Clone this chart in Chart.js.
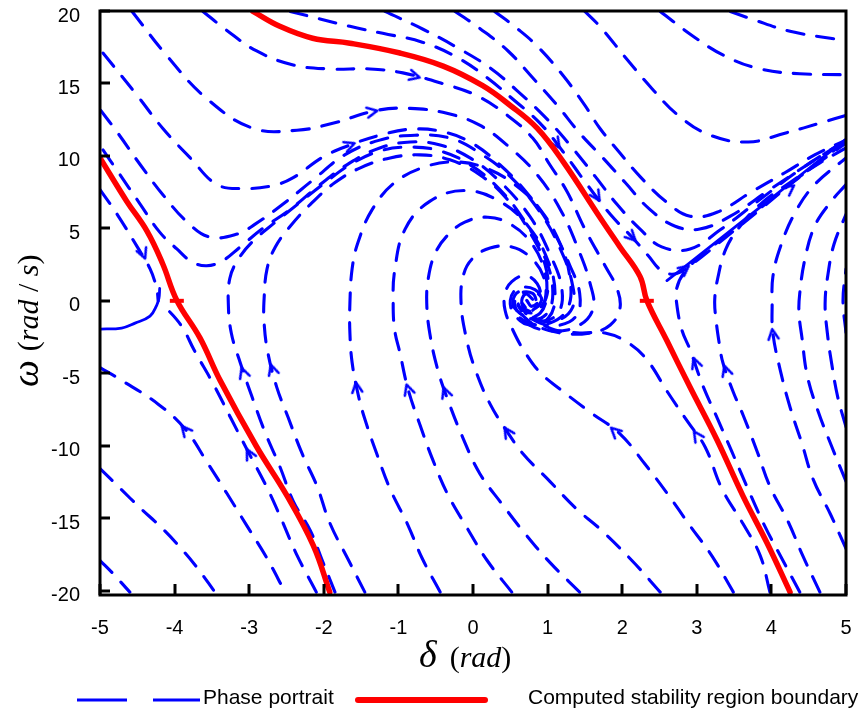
<!DOCTYPE html>
<html>
<head>
<meta charset="utf-8">
<script src="https://cdn.jsdelivr.net/npm/chart.js@4.4.1/dist/chart.umd.min.js"></script>
<style>
  html, body { margin: 0; padding: 0; background: #fff; }
  #wrap { width: 865px; height: 712px; }
</style>
</head>
<body>
<div id="wrap"><canvas id="phaseChart" width="865" height="712"></canvas></div>
<script>
// ================= Axis ticks =================
const xTicks = [-5, -4, -3, -2, -1, 0, 1, 2, 3, 4, 5];
const yTicks = [-20, -15, -10, -5, 0, 5, 10, 15, 20];

// ================= Stability boundary (red) =================
const boundaryLeft = [[-5.00,9.86],[-4.64,6.86],[-4.37,4.81],[-4.16,2.56],[-3.97,0.03],[-3.66,-2.56],[-3.39,-5.49],[-2.90,-10.07],[-2.49,-13.48],[-2.14,-16.89],[-1.92,-20.1]];
const boundaryRight = [[-2.95,19.97],[-2.59,18.94],[-2.15,18.12],[-1.65,17.78],[-0.98,17.1],[-0.40,16.2],[0.13,14.85],[0.50,13.48],[0.86,11.91],[1.21,9.59],[1.70,5.77],[1.97,3.72],[2.24,1.67],[2.33,0.03],[2.60,-2.76],[2.91,-5.97],[3.27,-9.59],[3.62,-13.48],[3.94,-16.7],[4.25,-20.1]];
const saddlePoints = [[-3.97,0],[2.33,0]];

// ================= Phase portrait trajectories (blue) =================
// upper left, entering the stable region from the top / left edge
const trajU0 = [[-3.62,19.97],[-3.32,18.74],[-2.90,17.24],[-2.41,16.28],[-1.92,16.0],[-1.38,16.0],[-0.94,15.73],[-0.40,14.98],[0.05,14.16],[0.46,12.8],[0.80,11.23],[1.03,9.39],[1.26,7.54],[1.50,4.95],[1.77,2.42],[1.93,0.85],[1.97,-0.51],[1.84,-1.67],[1.57,-2.22],[1.17,-2.22],[0.83,-1.67],[0.63,-0.85]];
const trajU1 = [[-4.57,19.97],[-4.10,16.89],[-3.57,13.96],[-2.95,11.91],[-2.36,11.77],[-1.88,12.25],[-1.29,13.14],[-0.84,13.28],[-0.35,12.94],[0.09,12.12],[0.50,10.55],[0.86,8.7],[1.17,6.31],[1.41,3.58],[1.57,1.19],[1.61,-0.51],[1.43,-1.67],[1.10,-2.08],[0.76,-1.67],[0.56,-0.51]];
const trajU2 = [[-4.96,17.1],[-4.50,14.16],[-4.16,11.91],[-3.79,9.86],[-3.43,8.02],[-3.06,7.75],[-2.68,7.95],[-2.41,8.5],[-2.01,9.93],[-1.65,10.75],[-1.25,11.43],[-0.84,11.84],[-0.44,11.71],[-0.04,10.96],[0.36,9.39],[0.74,7.34],[1.06,4.95],[1.30,2.42],[1.43,0.51],[1.39,-0.99],[1.17,-1.67],[0.90,-1.54],[0.70,-0.72],[0.66,0.17],[0.79,0.65],[0.92,0.17],[0.83,-0.51],[0.74,-0.03]];
const trajU3 = [[-4.99,13.14],[-4.76,11.57],[-4.46,9.39],[-4.16,7.34],[-3.83,5.43],[-3.53,4.4],[-3.16,4.61],[-2.92,5.29],[-2.55,6.66],[-2.14,8.36],[-1.72,10.07],[-1.25,11.09],[-0.78,11.43],[-0.31,11.23],[0.09,10.2],[0.50,8.57],[0.90,6.11],[1.17,3.58],[1.33,1.19],[1.33,-0.51],[1.10,-1.4],[0.83,-1.19],[0.66,-0.17]];
const trajU5 = [[-4.96,10.41],[-4.76,8.91],[-4.46,6.66],[-4.20,4.74],[-3.97,3.58],[-3.77,2.7],[-3.57,2.42],[-3.36,2.76],[-3.12,3.72],[-2.83,4.95],[-2.45,6.31],[-2.05,8.02],[-1.65,9.52],[-1.25,10.55],[-0.84,10.96],[-0.44,10.75],[-0.04,9.86],[0.36,8.23],[0.76,5.84],[1.03,3.24],[1.19,0.85],[1.14,-0.85],[0.90,-1.4],[0.70,-0.85]];
// left of the left boundary
const trajU4 = [[-5.0,7.68],[-4.77,5.97],[-4.50,3.72],[-4.33,2.22],[-4.24,0.85],[-4.22,0.0]];
const trajLR = [[-2.10,-20.1],[-2.37,-17.44],[-2.57,-15.05],[-2.77,-12.8],[-3.00,-10.55],[-3.24,-8.16],[-3.47,-5.84],[-3.74,-3.38],[-3.89,-1.88],[-4.06,-0.79],[-4.17,-0.38]];
const trajLL1 = [[-5.0,-4.61],[-4.73,-5.43],[-4.22,-7.13],[-3.86,-8.84],[-3.57,-11.09],[-3.30,-13.28],[-3.03,-15.53],[-2.76,-17.78],[-2.52,-20.1]];
const trajLL2 = [[-5.0,-11.57],[-4.73,-12.94],[-4.46,-14.3],[-4.20,-15.53],[-3.97,-16.76],[-3.70,-18.4],[-3.46,-20.1]];
const trajLL3 = [[-5.0,-17.92],[-4.83,-18.8],[-4.60,-20.1]];
// lower region, rising into the spiral
const trajSb = [[-1.85,-20.1],[-2.02,-17.92],[-2.18,-15.87],[-2.41,-13.82],[-2.59,-11.43],[-2.79,-9.04],[-2.96,-6.66],[-3.12,-4.27],[-3.24,-2.22],[-3.28,-0.17],[-3.26,1.54],[-3.16,2.76],[-2.96,4.06],[-2.65,5.43],[-2.32,6.79],[-1.98,8.16],[-1.65,9.39],[-1.25,10.34],[-0.84,10.61],[-0.44,10.34],[-0.04,9.39],[0.36,7.68],[0.70,5.43],[0.97,2.9],[1.07,0.51],[0.97,-0.99],[0.74,-1.19],[0.60,-0.31]];
const trajSa = [[-1.45,-20.1],[-1.68,-17.78],[-1.92,-15.32],[-2.09,-12.8],[-2.29,-10.55],[-2.48,-8.02],[-2.63,-5.97],[-2.75,-3.58],[-2.80,-1.54],[-2.80,0.17],[-2.76,2.22],[-2.65,3.72],[-2.45,5.15],[-2.18,6.66],[-1.85,8.16],[-1.51,9.18],[-1.11,9.86],[-0.71,10.07],[-0.31,9.73],[0.09,8.7],[0.46,7.0],[0.76,4.74],[0.97,2.42],[0.99,0.37],[0.83,-0.72],[0.66,-0.51]];
const trajS1 = [[-0.44,-20.1],[-0.68,-17.78],[-0.88,-15.39],[-1.11,-13.0],[-1.29,-10.55],[-1.45,-8.16],[-1.54,-6.45],[-1.62,-4.27],[-1.65,-2.22],[-1.65,-0.17],[-1.62,2.22],[-1.54,4.06],[-1.35,6.31],[-1.05,8.16],[-0.64,9.25],[-0.24,9.59],[0.16,9.18],[0.56,8.02],[0.90,6.31],[1.17,3.92],[1.30,1.54],[1.27,-0.51],[1.03,-1.54],[0.76,-1.54],[0.56,-0.72],[0.56,0.37],[0.74,0.92]];
const trajL1 = [[0.52,-20.1],[0.19,-17.92],[-0.08,-15.67],[-0.34,-13.34],[-0.54,-10.96],[-0.71,-8.57],[-0.87,-6.11],[-0.98,-3.58],[-1.05,-2.01],[-1.07,-0.17],[-1.05,2.08],[-0.91,4.95],[-0.58,6.86],[-0.11,7.61],[0.36,6.86],[0.74,5.15],[1.01,2.7],[1.10,0.37],[1.01,-1.19],[0.76,-1.67],[0.56,-0.99],[0.50,0.03],[0.60,0.85],[0.83,0.78],[0.92,-0.03],[0.80,-0.65]];
const trajL2 = [[1.43,-20.1],[1.03,-18.05],[0.70,-16.08],[0.39,-14.03],[0.09,-11.91],[-0.13,-9.52],[-0.35,-6.66],[-0.48,-4.61],[-0.58,-2.22],[-0.62,-0.17],[-0.60,1.54],[-0.51,3.24],[-0.35,4.47],[-0.11,5.43],[0.20,5.77],[0.50,5.29],[0.76,4.13],[0.94,2.42],[0.99,0.51],[0.90,-0.85],[0.70,-1.06],[0.56,-0.31],[0.63,0.51],[0.80,0.51],[0.86,-0.17]];
const trajL3 = [[2.51,-20.1],[2.13,-17.92],[1.70,-15.73],[1.39,-14.37],[1.03,-12.46],[0.67,-10.55],[0.46,-9.04],[0.23,-7.13],[0.03,-4.74],[-0.09,-2.56],[-0.16,-0.17],[-0.13,1.74],[-0.01,2.9],[0.23,3.65],[0.52,3.72],[0.76,3.04],[0.94,1.74],[0.97,0.17],[0.86,-0.72],[0.68,-0.72],[0.60,0.03],[0.70,0.51],[0.80,0.1]];
const trajL4 = [[3.49,-20.1],[3.20,-17.58],[2.91,-15.53],[2.61,-13.34],[2.31,-11.3],[1.97,-9.18],[1.57,-7.68],[1.17,-6.11],[0.90,-4.95],[0.70,-3.58],[0.54,-2.08],[0.43,-0.65],[0.43,0.51],[0.52,1.33],[0.70,1.74],[0.86,1.19],[0.90,0.17],[0.79,-0.38],[0.72,0.03]];
const trajL5 = [[3.98,-20.1],[3.85,-17.58],[3.62,-15.39],[3.34,-13.0],[3.11,-10.07],[2.88,-8.36],[2.61,-6.31],[2.33,-4.06],[2.08,-2.9],[1.77,-2.22],[1.43,-2.22],[1.10,-2.01],[0.83,-1.4]];
// right of the right boundary
const trajL6 = [[4.38,-20.1],[4.14,-17.78],[3.91,-15.53],[3.67,-12.8],[3.47,-10.41],[3.28,-8.16],[3.08,-5.84],[2.91,-3.38],[2.80,-2.01],[2.73,-0.17],[2.73,0.85],[2.82,1.88],[3.04,3.04],[3.45,4.74],[3.98,6.93],[4.52,9.11],[5.0,11.02]];
const trajL7 = [[4.65,-20.1],[4.42,-17.58],[4.22,-15.19],[3.98,-12.8],[3.81,-10.41],[3.62,-7.88],[3.49,-6.31],[3.35,-4.27],[3.30,-2.9],[3.26,-1.4],[3.24,0.03],[3.28,1.54],[3.39,3.58],[3.58,5.15],[3.85,6.66],[4.25,8.16],[4.65,9.52],[5.0,10.55]];
const trajL8 = [[5.0,-17.1],[4.79,-14.71],[4.56,-12.32],[4.41,-9.86],[4.25,-7.34],[4.12,-4.81],[4.02,-2.22],[4.01,-0.17],[4.02,1.67],[4.12,3.72],[4.32,6.11],[4.58,8.02],[5.0,9.86]];
const trajL9 = [[5.0,-12.46],[4.81,-10.07],[4.62,-7.54],[4.48,-5.15],[4.41,-2.56],[4.37,-0.85],[4.38,0.51],[4.45,2.9],[4.58,5.15],[4.79,6.79],[5.0,8.02]];
const trajL10 = [[5.0,-8.7],[4.89,-6.66],[4.81,-4.4],[4.75,-2.22],[4.72,-0.17],[4.76,1.88],[4.84,3.92],[5.0,5.97]];
const trajL11 = [[5.0,-2.2],[4.96,0.03],[5.0,2.2]];
// above the right boundary
const trajUR0 = [[3.45,19.97],[3.75,19.42],[4.25,18.6],[4.79,18.12],[5.0,17.99]];
const trajUR1 = [[2.51,19.97],[2.95,18.26],[3.38,16.89],[3.85,16.0],[4.38,15.67],[5.0,15.6]];
const trajURa = [[1.50,19.97],[1.70,18.94],[2.06,16.69],[2.40,14.64],[2.75,12.8],[3.18,11.43],[3.69,10.96],[4.18,11.57],[4.69,12.32],[5.0,12.8]];
const trajURb = [[0.29,19.97],[0.59,18.8],[0.86,17.58],[1.21,15.53],[1.50,13.48],[1.70,11.91],[1.97,10.2],[2.24,8.57],[2.60,6.79],[2.91,5.84],[3.27,6.11],[3.74,7.54],[4.18,8.84],[4.58,10.07],[5.0,11.09]];
const trajP1 = [[-2.45,19.97],[-1.65,18.94],[-1.21,18.46],[-0.68,17.85],[-0.20,16.76],[0.19,15.39],[0.54,13.89],[0.90,12.25],[1.21,10.27],[1.53,8.02],[1.84,5.97],[2.13,4.4],[2.35,3.11],[2.53,2.08],[2.73,1.88],[2.98,2.7],[3.31,4.06],[3.85,6.31],[4.38,8.57],[5.0,10.89]];
const trajP2 = [[-1.18,19.97],[-0.67,18.74],[-0.20,17.44],[0.23,16.07],[0.59,14.51],[0.97,12.66],[1.30,10.75],[1.64,8.57],[1.93,6.66],[2.24,4.95],[2.53,3.72],[2.91,3.58],[3.31,4.88],[3.85,7.0],[4.38,9.04],[5.0,11.09]];
const trajP3 = [[-0.24,19.97],[0.09,18.8],[0.47,17.24],[0.80,15.39],[1.13,13.48],[1.43,11.57],[1.73,9.93],[2.04,8.16],[2.37,6.31],[2.71,5.15],[3.04,4.95],[3.45,5.84],[3.98,7.68],[4.52,9.52],[5.0,11.09]];
// dense bundles that read as solid lines
const manifoldLeft = [[-4.20,0.85],[-4.21,0.17],[-4.24,-0.31],[-4.33,-1.06],[-4.53,-1.54],[-4.71,-1.88],[-5.0,-1.95]];
const manifoldRight = [[2.60,1.4],[3.04,3.17],[3.71,5.9],[4.38,8.63],[5.0,11.16]];

// ================= Direction arrows =================
const arrowPoints = [[-3.86,-8.91],[-4.42,3.24],[-3.00,-10.55],[-3.08,-4.95],[-2.69,-4.74],[-1.56,-5.97],[-0.87,-6.11],[-0.37,-6.31],[0.46,-9.04],[1.90,-9.0],[3.00,-9.3],[2.98,-4.27],[3.39,-4.81],[4.02,-2.3],[-1.35,13.05],[-1.65,10.75],[-0.78,15.5],[2.13,4.4],[1.66,7.2],[1.12,10.85],[2.84,2.2],[4.25,7.75]];
const arrowAngles = [-40, 158, -27, -19, -17, -8, -18, -20, -33, -47, -34, -20, -18, -8, 79, 69, 105, 135, 147, 145, 52, 52];

const phaseCurves = [trajU0, trajU1, trajU2, trajU3, trajU5, trajU4, trajLR, trajLL1, trajLL2, trajLL3,
  trajSb, trajSa, trajS1, trajL1, trajL2, trajL3, trajL4, trajL5, trajL6, trajL7, trajL8, trajL9, trajL10, trajL11,
  trajUR0, trajUR1, trajURa, trajURb, trajP1, trajP2, trajP3];

// ================= Styles =================
const RED = '#ff0000';
const BLUE = '#0000ff';
const SANS = "'Liberation Sans', Arial, sans-serif";
const SERIF = "'Liberation Serif', 'Times New Roman', serif";

function toPoints(arr) {
  return arr.map(p => ({ x: p[0], y: p[1] }));
}

function dashedLine(arr) {
  return {
    data: toPoints(arr), showLine: true, fill: false,
    borderColor: BLUE, borderWidth: 3.1, borderDash: [17, 13], borderCapStyle: 'round',
    tension: 0.4, pointRadius: 0
  };
}

function solidLine(arr, color, width) {
  return {
    data: toPoints(arr), showLine: true, fill: false,
    borderColor: color, borderWidth: width, borderCapStyle: 'round', borderJoinStyle: 'round',
    tension: 0.4, pointRadius: 0
  };
}

function makeChevron() {
  const c = document.createElement('canvas');
  c.width = 16; c.height = 16;
  const g = c.getContext('2d');
  g.strokeStyle = BLUE; g.lineWidth = 2.6; g.lineCap = 'round'; g.lineJoin = 'round';
  g.beginPath(); g.moveTo(3, 13); g.lineTo(8, 3); g.lineTo(13, 13); g.stroke();
  return c;
}

// ================= Frame, inner ticks, titles, legend =================
function drawRuns(ctx, runs, x, y) {
  let cx = x;
  runs.forEach(r => {
    ctx.font = r.font;
    ctx.fillText(r.text, cx + (r.gap || 0), y);
    cx += (r.gap || 0) + ctx.measureText(r.text).width;
  });
}

function line(ctx, x1, y1, x2, y2) {
  ctx.beginPath(); ctx.moveTo(x1, y1); ctx.lineTo(x2, y2); ctx.stroke();
}

const framePlugin = {
  id: 'frame',
  afterDraw(chart) {
    const { ctx, chartArea: a, scales } = chart;
    ctx.save();
    ctx.strokeStyle = '#000';
    ctx.lineWidth = 3;
    xTicks.forEach(v => {
      const px = Math.round(scales.x.getPixelForValue(v));
      line(ctx, px, a.bottom, px, a.bottom - 11);
    });
    yTicks.forEach(v => {
      const py = Math.round(scales.y.getPixelForValue(v));
      line(ctx, a.left, py, a.left + 10, py);
    });
    ctx.strokeRect(a.left, a.top, a.right - a.left, a.bottom - a.top);

    // axis titles
    ctx.fillStyle = '#000';
    ctx.textBaseline = 'alphabetic';
    ctx.textAlign = 'left';
    drawRuns(ctx, [
      { text: 'δ', font: 'italic 38px ' + SERIF },
      { text: '(', font: '30px ' + SERIF, gap: 13 },
      { text: 'rad', font: 'italic 30px ' + SERIF },
      { text: ')', font: '30px ' + SERIF }
    ], 419, 667);

    ctx.save();
    ctx.translate(38, 387);
    ctx.rotate(-Math.PI / 2);
    drawRuns(ctx, [
      { text: 'ω', font: 'italic 38px ' + SERIF },
      { text: '(', font: '30px ' + SERIF, gap: 9 },
      { text: 'rad', font: 'italic 30px ' + SERIF },
      { text: ' / ', font: '30px ' + SERIF },
      { text: 's', font: 'italic 30px ' + SERIF },
      { text: ')', font: '30px ' + SERIF }
    ], 0, 0);
    ctx.restore();

    // legend
    ctx.strokeStyle = BLUE;
    ctx.lineWidth = 3.2;
    line(ctx, 77, 700, 127, 700);
    line(ctx, 153, 700, 200, 700);
    ctx.strokeStyle = RED;
    ctx.lineWidth = 6;
    ctx.lineCap = 'round';
    line(ctx, 358, 700, 485, 700);
    ctx.font = '21px ' + SANS;
    ctx.textBaseline = 'middle';
    ctx.fillText('Phase portrait', 203, 698);
    ctx.fillText('Computed stability region boundary', 528, 698);
    ctx.restore();
  }
};

// ================= Chart =================
const datasets = [
  solidLine(boundaryRight, RED, 5.5),
  solidLine(boundaryLeft, RED, 5.5),
  {
    data: toPoints(saddlePoints), showLine: false,
    pointStyle: 'line', pointRadius: 7, pointBorderWidth: 4,
    borderColor: RED, backgroundColor: RED
  },
  {
    data: toPoints(arrowPoints), showLine: false,
    pointStyle: makeChevron(), pointRotation: arrowAngles, pointRadius: 6
  },
  solidLine(manifoldLeft, BLUE, 2.8),
  solidLine(manifoldRight, BLUE, 2.8),
  ...phaseCurves.map(dashedLine)
];

new Chart(document.getElementById('phaseChart'), {
  type: 'scatter',
  data: { datasets },
  options: {
    responsive: false,
    animation: false,
    devicePixelRatio: 1,
    events: [],
    layout: { padding: { left: 0, top: 6, right: 19, bottom: 0 } },
    plugins: { legend: { display: false }, tooltip: { enabled: false } },
    scales: {
      x: {
        type: 'linear', min: -5, max: 5,
        afterBuildTicks: s => { s.ticks = xTicks.map(v => ({ value: v })); },
        afterFit: s => { s.height = 117; s.paddingLeft = 0; s.paddingRight = 0; },
        ticks: { color: '#000', font: { family: SANS, size: 20 }, padding: 21, maxRotation: 0, autoSkip: false },
        grid: { display: false, drawTicks: false },
        border: { display: false }
      },
      y: {
        type: 'linear', min: -20.3, max: 20,
        afterBuildTicks: s => { s.ticks = yTicks.map(v => ({ value: v })); },
        afterFit: s => { s.width = 100; s.paddingTop = 0; s.paddingBottom = 0; },
        ticks: { color: '#000', font: { family: SANS, size: 20 }, padding: 20, labelOffset: 5, autoSkip: false },
        grid: { display: false, drawTicks: false },
        border: { display: false }
      }
    }
  },
  plugins: [framePlugin]
});
</script>
</body>
</html>
